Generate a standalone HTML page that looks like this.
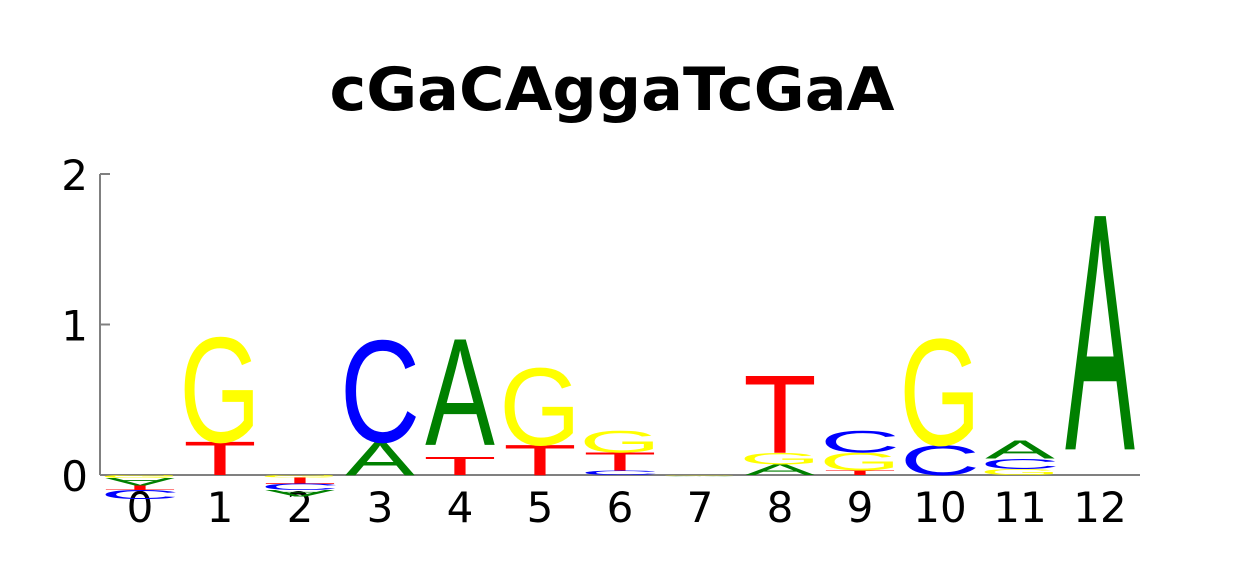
<!DOCTYPE html>
<html><head><meta charset="utf-8"><style>
html,body{margin:0;padding:0;background:#fff;width:1240px;height:575px;overflow:hidden}
svg{display:block}
</style></head><body>
<svg id="chart" width="1240" height="575">
<text x="612" y="110" text-anchor="middle" font-family="DejaVu Sans, sans-serif" font-weight="bold" font-size="60" textLength="565" lengthAdjust="spacingAndGlyphs">cGaCAggaTcGaA</text>
<g id="axes"></g>
<g id="marks"></g>
</svg>
<script>
const positions = [0,1,2,3,4,5,6,7,8,9,10,11,12];
// positive stacks, bottom to top ('' = unlabeled gap)
const posLetters = [[],["T","G"],[],["A","C"],["T","","A"],["T","G"],["C","T","G"],[],["A","G","T"],["T","G","C"],["C","G"],["G","C","A"],["","A"]];
const posHeights = [[],[0.22,0.71],[],[0.22,0.69],[0.12,0.08,0.70],[0.20,0.52],[0.03,0.12,0.15],[],[0.07,0.08,0.51],[0.03,0.12,0.15],[0.20,0.72],[0.04,0.07,0.12],[0.17,1.55]];
// negative stacks, top to bottom
const negLetters = [["G","A","T","C"],[],["G","T","C","A"],[],[],[],[],["G","A"],[],[],[],[],[]];
const negHeights = [[0.02,0.05,0.03,0.06],[],[0.015,0.04,0.045,0.04],[],[],[],[],[0.005,0.005],[],[],[],[],[]];
const yTicks = [0,1,2];

const colors = {A:"#008000",C:"#0000ff",G:"#ffff00",T:"#ff0000"};
const inkW = {A:67,C:63,G:67,T:58};
const inkH = {A:68.8,C:71,G:71,T:68.8};
const NS="http://www.w3.org/2000/svg";
const y0=475, yUnit=150.5, x0=140, xStep=80, boxW=70;
const ys=v=>y0-v*yUnit, xs=i=>x0+i*xStep;
const axes=document.getElementById('axes'), marks=document.getElementById('marks');

function mk(tag,attrs,parent){const e=document.createElementNS(NS,tag);for(const k in attrs)e.setAttribute(k,attrs[k]);parent.appendChild(e);return e;}

const yl=mk('line',{x1:100,y1:ys(2),x2:100,y2:y0,stroke:'#808080','stroke-width':2},axes);


const xl=mk('line',{x1:100,y1:y0,x2:1140,y2:y0,stroke:'#808080','stroke-width':2},axes);


yTicks.forEach(t=>{
  const tk=mk('line',{x1:100,y1:ys(t),x2:110,y2:ys(t),stroke:'#808080','stroke-width':2},axes);
  
  
  const lb=mk('text',{x:88,y:ys(t)+16,'text-anchor':'end','font-family':'DejaVu Sans, sans-serif','font-size':42},axes);
  lb.textContent=t;
  
  
});
positions.forEach(p=>{
  const lb=mk('text',{x:xs(p),y:522,'text-anchor':'middle','font-family':'DejaVu Sans, sans-serif','font-size':42},axes);
  lb.textContent=p;
  
  
});

function letter(ch,cx,yBase,hpx,flip){
  if(!ch||hpx<=0)return;
  const sx=boxW/inkW[ch], sy=hpx/inkH[ch];
  const t=mk('text',{x:0,y:0,'text-anchor':'middle','font-family':'Liberation Sans, sans-serif','font-size':100,fill:colors[ch],
    transform:`translate(${cx},${yBase}) scale(${sx},${flip?-sy:sy})`},marks);
  t.textContent=ch;
  
  
}
positions.forEach(p=>{
  let acc=0;
  posLetters[p].forEach((ch,k)=>{const h=posHeights[p][k];letter(ch,xs(p),ys(acc),h*yUnit,false);acc+=h;});
  acc=0;
  negLetters[p].forEach((ch,k)=>{const h=negHeights[p][k];letter(ch,xs(p),ys(-acc),h*yUnit,true);acc+=h;});
});
</script>
</body></html>
